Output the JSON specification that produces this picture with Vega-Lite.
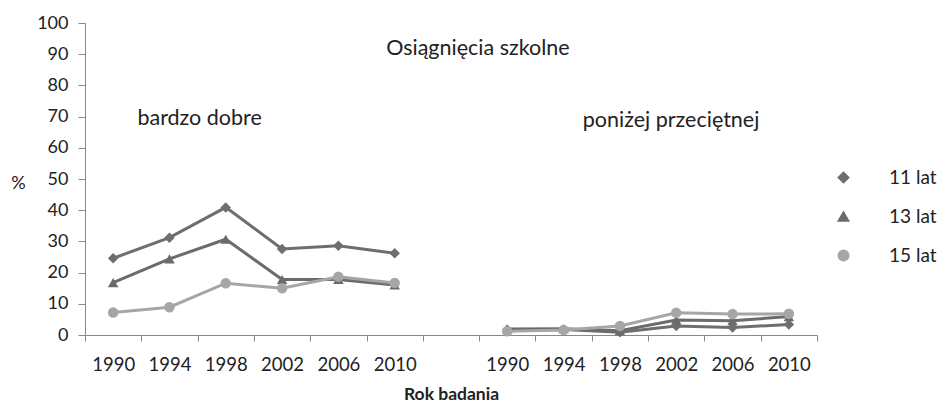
{
  "$schema": "https://vega.github.io/schema/vega-lite/v6.json",
  "width": 732,
  "height": 312,
  "autosize": "none",
  "padding": {"left": 85, "top": 23, "right": 128, "bottom": 69},
  "background": "white",
  "config": {
    "view": {"stroke": null},
    "font": "Lato",
    "axis": {"labelFont": "Lato", "titleFont": "Lato", "labelColor": "#222", "titleColor": "#222", "domainColor": "#888", "tickColor": "#888", "grid": false},
    "legend": {"labelFont": "Lato"}
  },
  "datasets": {
    "main": [
      {"k": "a1990", "g": "11 lat", "p": "A", "v": 24.6},
      {"k": "a1994", "g": "11 lat", "p": "A", "v": 31.2},
      {"k": "a1998", "g": "11 lat", "p": "A", "v": 40.9},
      {"k": "a2002", "g": "11 lat", "p": "A", "v": 27.6},
      {"k": "a2006", "g": "11 lat", "p": "A", "v": 28.6},
      {"k": "a2010", "g": "11 lat", "p": "A", "v": 26.2},
      {"k": "a1990", "g": "13 lat", "p": "A", "v": 16.8},
      {"k": "a1994", "g": "13 lat", "p": "A", "v": 24.4},
      {"k": "a1998", "g": "13 lat", "p": "A", "v": 30.7},
      {"k": "a2002", "g": "13 lat", "p": "A", "v": 17.8},
      {"k": "a2006", "g": "13 lat", "p": "A", "v": 17.8},
      {"k": "a2010", "g": "13 lat", "p": "A", "v": 16.0},
      {"k": "a1990", "g": "15 lat", "p": "A", "v": 7.2},
      {"k": "a1994", "g": "15 lat", "p": "A", "v": 8.9},
      {"k": "a1998", "g": "15 lat", "p": "A", "v": 16.6},
      {"k": "a2002", "g": "15 lat", "p": "A", "v": 15.0},
      {"k": "a2006", "g": "15 lat", "p": "A", "v": 18.7},
      {"k": "a2010", "g": "15 lat", "p": "A", "v": 16.7},
      {"k": "b1990", "g": "11 lat", "p": "B", "v": 1.7},
      {"k": "b1994", "g": "11 lat", "p": "B", "v": 1.8},
      {"k": "b1998", "g": "11 lat", "p": "B", "v": 0.9},
      {"k": "b2002", "g": "11 lat", "p": "B", "v": 2.9},
      {"k": "b2006", "g": "11 lat", "p": "B", "v": 2.4},
      {"k": "b2010", "g": "11 lat", "p": "B", "v": 3.4},
      {"k": "b1990", "g": "13 lat", "p": "B", "v": 1.9},
      {"k": "b1994", "g": "13 lat", "p": "B", "v": 2.0},
      {"k": "b1998", "g": "13 lat", "p": "B", "v": 1.4},
      {"k": "b2002", "g": "13 lat", "p": "B", "v": 4.8},
      {"k": "b2006", "g": "13 lat", "p": "B", "v": 4.6},
      {"k": "b2010", "g": "13 lat", "p": "B", "v": 5.9},
      {"k": "b1990", "g": "15 lat", "p": "B", "v": 1.2},
      {"k": "b1994", "g": "15 lat", "p": "B", "v": 1.6},
      {"k": "b1998", "g": "15 lat", "p": "B", "v": 2.9},
      {"k": "b2002", "g": "15 lat", "p": "B", "v": 7.1},
      {"k": "b2006", "g": "15 lat", "p": "B", "v": 6.7},
      {"k": "b2010", "g": "15 lat", "p": "B", "v": 6.8}
    ],
    "notes": [
      {"k": "gap", "v": 91.7, "t": "Osiągnięcia szkolne", "o": 55},
      {"k": "a1998", "v": 69.2, "t": "bardzo dobre", "o": 2},
      {"k": "b2002", "v": 68.6, "t": "poniżej przeciętnej", "o": 23}
    ]
  },
  "encoding": {
    "x": {
      "field": "k", "type": "nominal",
      "scale": {"type": "band", "paddingInner": 0, "paddingOuter": 0,
        "domain": ["a1990", "a1994", "a1998", "a2002", "a2006", "a2010", "gap", "b1990", "b1994", "b1998", "b2002", "b2006", "b2010"]},
      "axis": {"title": "Rok badania", "titleFontWeight": "bold", "titleFontSize": 17.5, "titlePadding": 12,
        "labelExpr": "datum.label == 'gap' ? '' : substring(datum.label, 1)",
        "labelAngle": 0, "labelFontSize": 18.5, "labelPadding": 14, "tickBand": "extent", "tickSize": 6, "labelColor": "#222"}
    },
    "y": {
      "field": "v", "type": "quantitative",
      "scale": {"domain": [0, 100], "nice": false},
      "axis": {"values": [0, 10, 20, 30, 40, 50, 60, 70, 80, 90, 100], "labelFontSize": 18, "labelPadding": 10, "tickSize": 7,
        "title": "%", "titleAngle": 0, "titleFontWeight": "normal", "titleFontSize": 18, "titleAlign": "center", "titleBaseline": "middle", "titleX": -67, "titleY": 160}
    },
    "color": {"field": "g", "type": "nominal", "scale": {"domain": ["11 lat", "13 lat", "15 lat"], "range": ["#6e6e6e", "#6b6b6b", "#a6a6a6"]},
      "legend": {"title": null, "orient": "none", "legendX": 749, "legendY": 145, "labelFontSize": 19, "labelColor": "#222", "rowPadding": 19, "symbolSize": 110, "labelOffset": 36}}
  },
  "layer": [
    {
      "data": {"name": "main"},
      "mark": {"type": "line", "strokeWidth": 3},
      "encoding": {
        "detail": {"field": "p"}
      }
    },
    {
      "data": {"name": "main"},
      "mark": {"type": "point", "filled": true, "opacity": 1, "size": 110},
      "encoding": {
        "shape": {"field": "g", "type": "nominal", "scale": {"domain": ["11 lat", "13 lat", "15 lat"], "range": ["diamond", "triangle-up", "circle"]},
          "legend": {"title": null, "orient": "none", "legendX": 749, "legendY": 145, "labelFontSize": 19, "labelColor": "#222", "rowPadding": 19, "symbolSize": 110, "labelOffset": 36}}
      }
    },
    {
      "data": {"name": "notes"},
      "mark": {"type": "text", "fontSize": 21.5, "color": "#222", "align": "center", "baseline": "middle"},
      "encoding": {
        "color": {"value": "#222"},
        "text": {"field": "t"},
        "xOffset": {"field": "o", "type": "quantitative", "scale": null}
      }
    }
  ]
}
